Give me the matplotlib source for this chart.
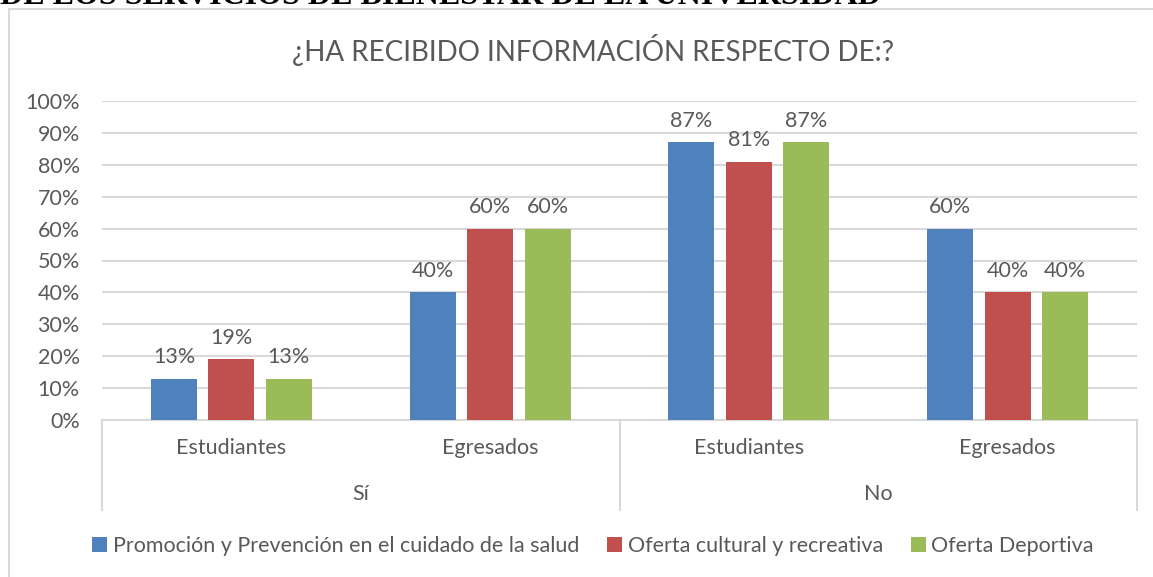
import numpy as np
import matplotlib
matplotlib.use("Agg")
import matplotlib.pyplot as plt
from matplotlib.patches import Rectangle
from matplotlib.lines import Line2D

# Data
subgroups = ["Estudiantes", "Egresados", "Estudiantes", "Egresados"]
groups = ["Sí", "No"]
series = ["Promoción y Prevención en el cuidado de la salud",
          "Oferta cultural y recreativa",
          "Oferta Deportiva"]
salud = [13, 40, 87, 60]
cultural = [19, 60, 81, 40]
deportiva = [13, 60, 87, 40]
colors = ["#4F81BD", "#C0504D", "#9BBB59"]

plt.rcParams["font.family"] = ["Lato", "DejaVu Sans"]
txt = "#595959"
grid = "#D9D9D9"
fs = 15.5

W, H = 1153, 577
fig = plt.figure(figsize=(W / 100, H / 100), dpi=100)

# cut-off heading of the document page
fig.text(0, 1 - 4 / H, "DE LOS SERVICIOS DE BIENESTAR DE LA UNIVERSIDAD",
         family="Liberation Serif", fontweight="bold", fontsize=23,
         ha="left", va="baseline", color="black")

# chart frame
fig.patches.append(Rectangle((9 / W, -0.05), 1.2, 1 - 9 / H + 0.05,
                             transform=fig.transFigure, fill=False,
                             edgecolor=grid, lw=1.5))

fig.text(593 / W, 1 - 50 / H, "¿HA RECIBIDO INFORMACIÓN RESPECTO DE:?",
         ha="center", va="center", fontsize=20, color=txt)

left, right, top, bottom = 102, 1137, 101, 420
ax = fig.add_axes([left / W, 1 - bottom / H, (right - left) / W, (bottom - top) / H])

x = np.arange(len(subgroups))
bw = 0.178
step = 0.222
for i, (vals, c, name) in enumerate(zip([salud, cultural, deportiva], colors, series)):
    pos = x + (i - 1) * step
    ax.bar(pos, vals, width=bw, color=c, label=name, zorder=3)
    for p, v in zip(pos, vals):
        ax.annotate(f"{v}%", (p, v), xytext=(0, 8), textcoords="offset points",
                    ha="center", va="bottom", fontsize=fs, color=txt)

ax.set_xlim(-0.5, len(subgroups) - 0.5)
ax.set_ylim(0, 100)
ax.set_yticks(np.arange(0, 101, 10))
ax.set_yticklabels([f"{v}%" for v in range(0, 101, 10)])
ax.tick_params(axis="y", length=0, labelsize=fs, labelcolor=txt, pad=16)
ax.set_xticks([])
ax.yaxis.grid(True, color=grid, lw=1.5, zorder=0)
for s in ["left", "right", "top"]:
    ax.spines[s].set_visible(False)
ax.spines["bottom"].set_color(grid)
ax.spines["bottom"].set_linewidth(1.5)

# multi-level category axis
px = (bottom - top) / 100.0  # pixels per data unit on y
for xv in [-0.5, 1.5, 3.5]:
    ax.add_line(Line2D([xv, xv], [0, -90 / px], color=grid, lw=1.5, clip_on=False))
for xi, lab in zip(x, subgroups):
    ax.text(xi, -28 / px, lab, ha="center", va="center", fontsize=fs, color=txt)
for gi, g in enumerate(groups):
    ax.text(gi * 2 + 0.5, -74 / px, g, ha="center", va="center", fontsize=fs, color=txt)

leg = fig.legend(loc="center", bbox_to_anchor=(593 / W, 1 - 546 / H), ncol=3,
                 frameon=False, fontsize=fs, handlelength=0.7, handleheight=0.7,
                 handletextpad=0.25, columnspacing=1.3, labelcolor=txt)

fig.savefig("out.png", dpi=100)
